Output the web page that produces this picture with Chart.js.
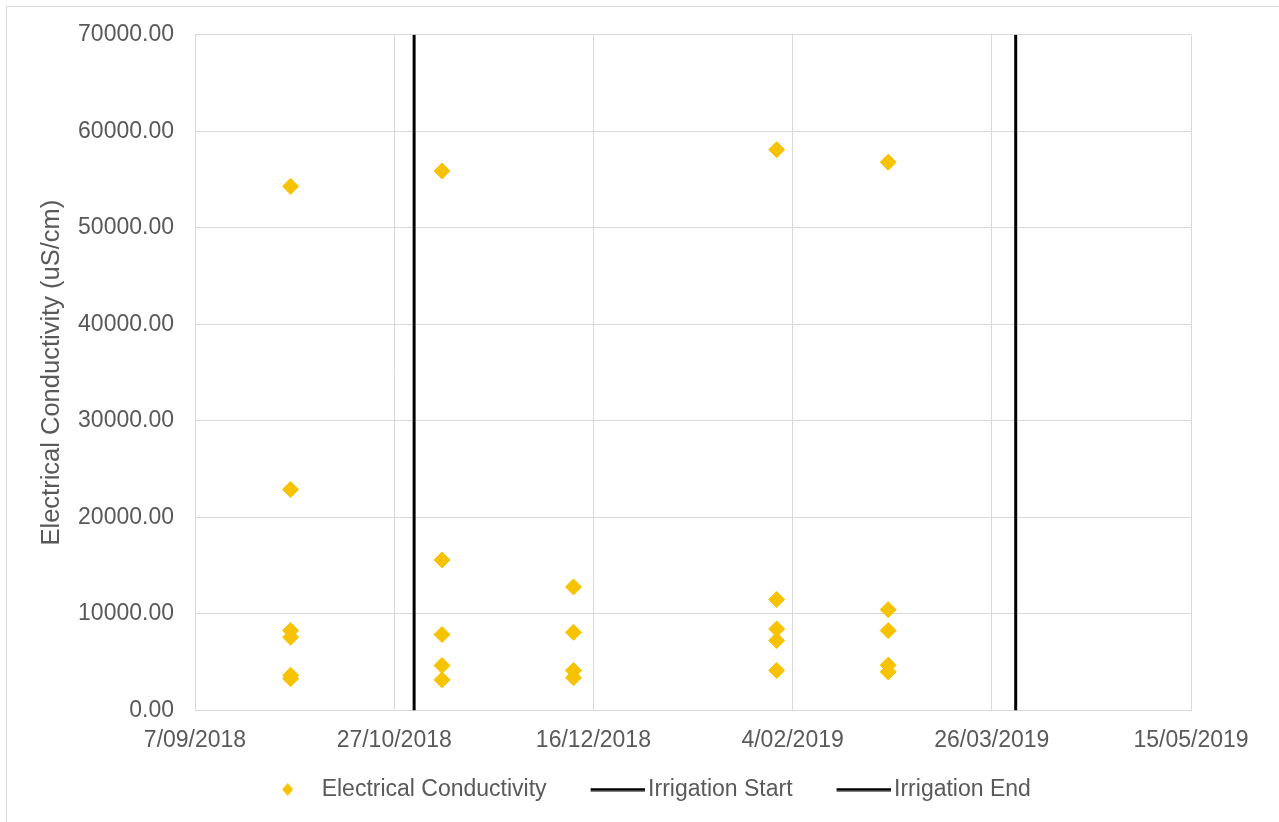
<!DOCTYPE html>
<html>
<head>
<meta charset="utf-8">
<script src="https://cdn.jsdelivr.net/npm/chart.js@4.4.1/dist/chart.umd.min.js"></script>
<style>
  html, body { margin: 0; padding: 0; background: #fff; overflow: hidden; }
  #frame { position: absolute; left: 6px; top: 6px; width: 1400px; height: 900px; border-top: 1px solid #d9d9d9; border-left: 1px solid #d9d9d9; }
  #wrap { position: absolute; left: 0; top: 0; width: 1279px; height: 822px; }
</style>
</head>
<body>
<div id="frame"></div>
<div id="wrap"><canvas id="ecChart" width="1279" height="822"></canvas></div>
<script>
// sample dates as Excel serial day numbers (43350 = 7/09/2018)
const sampleDates = [
  43374, 43374, 43374, 43374, 43374, 43374,
  43412, 43412, 43412, 43412, 43412,
  43445, 43445, 43445, 43445,
  43496, 43496, 43496, 43496, 43496,
  43524, 43524, 43524, 43524, 43524
];
const ecValues = [
  54300, 22900, 8280, 7600, 3650, 3300,
  55900, 15600, 7870, 4660, 3180,
  12800, 8100, 4150, 3400,
  58100, 11500, 8450, 7250, 4150,
  56800, 10450, 8280, 4700, 4000
];
const irrigationStart = 43405;
const irrigationEnd = 43556;
const yRange = [0, 70000];
const xRange = [43350, 43600];
const seriesNames = ['Electrical Conductivity', 'Irrigation Start', 'Irrigation End'];

const textColor = '#595959';
const gridColor = '#d9d9d9';
const gold = '#F7C300';
const font = 'Liberation Sans, Arial';

function excelToLabel(v) {
  const d = new Date(Date.UTC(1899, 11, 30) + v * 86400000);
  return d.getUTCDate() + '/' + String(d.getUTCMonth() + 1).padStart(2, '0') + '/' + d.getUTCFullYear();
}

// little canvases for the legend symbols
function legendDiamond() {
  const c = document.createElement('canvas');
  c.width = 86; c.height = 16;
  const g = c.getContext('2d');
  g.fillStyle = gold;
  g.beginPath();
  g.moveTo(55.5, 1.5);
  g.lineTo(61, 8);
  g.lineTo(55.5, 14.5);
  g.lineTo(50, 8);
  g.closePath();
  g.fill();
  return c;
}
function legendLine() {
  const c = document.createElement('canvas');
  c.width = 86; c.height = 4;
  const g = c.getContext('2d');
  g.fillStyle = '#000';
  g.fillRect(32, 0.5, 54, 3);
  return c;
}
const legendIcons = [legendDiamond(), legendLine(), legendLine()];

// nudge the legend to the right like the original
const legendShift = {
  id: 'legendShift',
  afterLayout(chart) {
    chart.legend.left += 40;
    chart.legend.right += 40;
  }
};

const points = sampleDates.map((d, i) => ({ x: d, y: ecValues[i] }));

const ctx = document.getElementById('ecChart').getContext('2d');
new Chart(ctx, {
  type: 'scatter',
  data: {
    datasets: [
      {
        label: seriesNames[0],
        data: points,
        pointStyle: 'rectRot',
        pointRadius: 8,
        pointHoverRadius: 8,
        backgroundColor: gold,
        borderColor: gold,
        borderWidth: 1
      },
      {
        label: seriesNames[1],
        type: 'line',
        data: [{ x: irrigationStart, y: yRange[0] }, { x: irrigationStart, y: yRange[1] }],
        borderColor: '#000',
        borderWidth: 3,
        pointRadius: 0,
        fill: false
      },
      {
        label: seriesNames[2],
        type: 'line',
        data: [{ x: irrigationEnd, y: yRange[0] }, { x: irrigationEnd, y: yRange[1] }],
        borderColor: '#000',
        borderWidth: 3,
        pointRadius: 0,
        fill: false
      }
    ]
  },
  plugins: [legendShift],
  options: {
    responsive: false,
    animation: false,
    layout: { padding: { top: 34, right: 88, bottom: 11, left: 0 } },
    plugins: {
      tooltip: { enabled: false },
      legend: {
        position: 'bottom',
        labels: {
          usePointStyle: true,
          pointStyleWidth: 70,
          padding: 20,
          color: textColor,
          font: { family: font, size: 23 },
          generateLabels: function (chart) {
            const items = Chart.defaults.plugins.legend.labels.generateLabels(chart);
            items.forEach((it, i) => { it.pointStyle = legendIcons[i]; });
            return items;
          }
        }
      }
    },
    scales: {
      x: {
        type: 'linear',
        min: xRange[0],
        max: xRange[1],
        afterFit: function (scale) { scale.height = 47.5; },
        ticks: {
          stepSize: 50,
          padding: 16,
          color: textColor,
          font: { family: font, size: 23 },
          maxRotation: 0,
          callback: v => excelToLabel(v)
        },
        grid: { color: gridColor, drawTicks: false },
        border: { color: gridColor }
      },
      y: {
        min: yRange[0],
        max: yRange[1],
        afterFit: function (scale) { scale.width = 195; },
        ticks: {
          stepSize: 10000,
          padding: 21,
          color: textColor,
          font: { family: font, size: 23 },
          callback: v => v.toFixed(2)
        },
        grid: { color: gridColor, drawTicks: false },
        border: { color: gridColor },
        title: {
          display: true,
          text: 'Electrical Conductivity (uS/cm)',
          color: textColor,
          font: { family: font, size: 25.5 },
          padding: { top: 37 }
        }
      }
    }
  }
});
</script>
</body>
</html>
